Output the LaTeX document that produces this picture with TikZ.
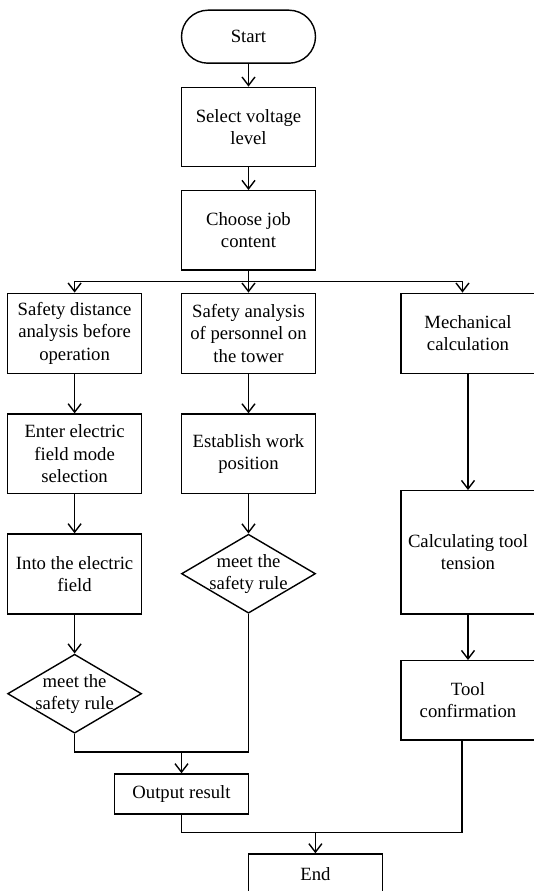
\documentclass[tikz,border=0pt]{standalone}
\usepackage{fontspec}
\setmainfont{Liberation Serif}
\usetikzlibrary{arrows.meta,shapes.geometric,calc}
\begin{document}
\begin{tikzpicture}[x=1pt,y=-1pt,
  every node/.style={font=\fontsize{18.7}{22.3}\selectfont, align=center, line width=1.4pt},
  box/.style={draw, rectangle, minimum width=134pt, inner sep=0pt},
  dia/.style={draw, diamond, minimum width=134pt, minimum height=79pt, inner sep=0pt},
  arr/.style={-{Straight Barb[length=8.5pt,width=13pt,line width=1.4pt]}},
  line width=1.4pt]
\useasboundingbox (0,0) rectangle (534,891);
\fill[white] (0,0) rectangle (534,891);
% nodes
\node[box, rounded corners=26.5pt, minimum height=53pt] (start) at (248.5,36.7) {Start};
\node[box, minimum height=79.4pt] (sel) at (248.5,127) {Select voltage\\level};
\node[box, minimum height=79.4pt] (choose) at (248.5,230.4) {Choose job\\content};
\node[box, minimum height=80pt] (sda) at (74.6,333.3) {Safety distance\\analysis before\\operation};
\node[box, minimum height=80pt] (sap) at (248.5,333.3) {Safety analysis\\of personnel on\\the tower};
\node[box, minimum height=80pt] (mech) at (468,333.3) {Mechanical\\calculation};
\node[box, minimum height=79.3pt] (efm) at (74.6,453.7) {Enter electric\\field mode\\selection};
\node[box, minimum height=79.3pt] (ewp) at (248.5,453.7) {Establish work\\position};
\node[box, minimum height=80pt] (into) at (74.6,574) {Into the electric\\field};
\node[dia] (md) at (248.5,573.7) {};
\node[align=center] (mdt) at (248.5,573.7) {meet the\\safety rule};
\node[box, minimum height=123.3pt] (calc) at (468,552.4) {Calculating tool\\tension};
\node[dia] (ld) at (74.6,693.7) {};
\node[align=center] (ldt) at (74.6,693.7) {meet the\\safety rule};
\node[box, minimum height=79.3pt] (tool) at (468,700.4) {Tool\\confirmation};
\node[box, minimum height=40pt] (out) at (181.5,794) {Output result};
\node[box, minimum height=40pt] (end) at (315.4,874) {End};
% connectors
\coordinate (b) at (248.5,281.5);
\coordinate (j1) at (181.5,752);
\coordinate (j2) at (315.4,832.3);
\draw[arr] (start) -- (sel);
\draw[arr] (sel) -- (choose);
\draw (choose.south) -- (b);
\draw[arr] (b) -| (sda.north);
\draw[arr] (b) -- (sap.north);
\draw[arr] (b) -| ($(mech.north)+(-5.5,0)$);
\draw[arr] (sda) -- (efm);
\draw[arr] (efm) -- (into);
\draw[arr] (into) -- (ld.north);
\draw[arr] (sap) -- (ewp);
\draw[arr] (ewp) -- (md.north);
\draw[arr] (mech) -- (calc);
\draw[arr] (calc) -- (tool);
\draw (ld.south) |- (j1) -| (md.south);
\draw[arr] (j1) -- (out.north);
\draw (out.south) |- (j2) -| ($(tool.south)+(-6,0)$);
\draw[arr] (j2) -- (end.north);
\end{tikzpicture}
\end{document}
